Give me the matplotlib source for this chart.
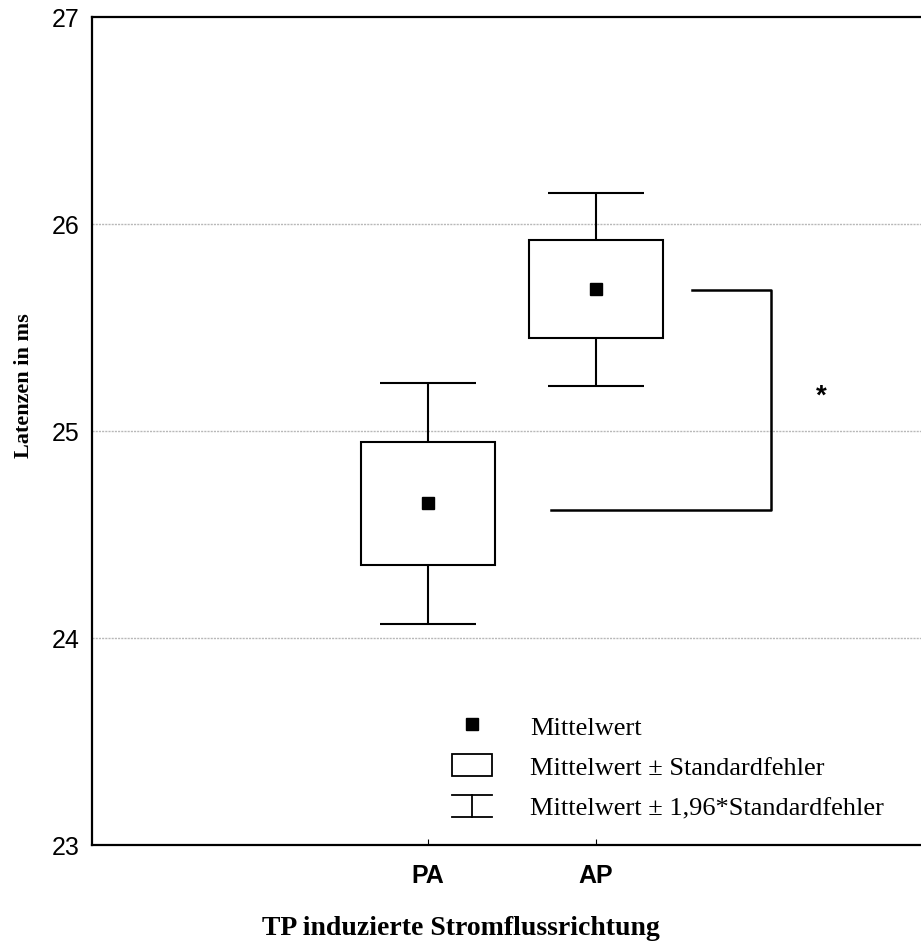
import numpy as np
import matplotlib
matplotlib.use("Agg")
import matplotlib.pyplot as plt
from matplotlib.lines import Line2D
from matplotlib.patches import Patch
from matplotlib.legend_handler import HandlerBase

# Latenzen je Stromflussrichtung
groups = ['PA', 'AP']
means = [24.65, 25.685]
std_err = [0.297, 0.238]

# Signifikanzklammer
bracket_y = [25.68, 24.62]
bracket_x_start = [1.57, 0.73]
bracket_x = 2.04
star_pos = (2.34, 25.17)

yticks = [23, 24, 25, 26, 27]

sans = 'Liberation Sans'
serif = 'Liberation Serif'


class WhiskerHandler(HandlerBase):
    def create_artists(self, legend, orig_handle, xdescent, ydescent,
                       width, height, fontsize, trans):
        xm = width / 2 - xdescent
        y0, y1 = -ydescent, height - ydescent
        lines = [
            Line2D([-xdescent, width - xdescent], [y1, y1]),
            Line2D([-xdescent, width - xdescent], [y0, y0]),
            Line2D([xm, xm], [y0, y1]),
        ]
        for ln in lines:
            ln.set_color('black')
            ln.set_linewidth(1.3)
            ln.set_transform(trans)
        return lines


fig = plt.figure(figsize=(9.21, 9.45), dpi=100)
ax = fig.add_axes([92 / 921, 99 / 945, 840 / 921, 828 / 945])

x = np.arange(len(groups))
means = np.array(means)
std_err = np.array(std_err)
lo_box, hi_box = means - std_err, means + std_err
lo_wh, hi_wh = means - 1.96 * std_err, means + 1.96 * std_err

ax.bar(x, hi_box - lo_box, bottom=lo_box, width=0.8, fill=False,
       edgecolor='black', linewidth=1.5, zorder=3)
ax.vlines(x, hi_box, hi_wh, color='black', lw=1.5, zorder=3)
ax.vlines(x, lo_wh, lo_box, color='black', lw=1.5, zorder=3)
ax.hlines(hi_wh, x - 0.285, x + 0.285, color='black', lw=1.5, zorder=3)
ax.hlines(lo_wh, x - 0.285, x + 0.285, color='black', lw=1.5, zorder=3)
ax.plot(x, means, 's', color='black', ms=9, zorder=4)

# Klammer mit Sternchen
ax.plot([bracket_x_start[0], bracket_x, bracket_x, bracket_x_start[1]],
        [bracket_y[0], bracket_y[0], bracket_y[1], bracket_y[1]],
        color='black', lw=1.8, zorder=3)
ax.text(star_pos[0], star_pos[1], '*', fontsize=20, fontweight='bold',
        family=sans, ha='center', va='center')

ax.set_xlim(-2, 3)
ax.set_ylim(23, 27)
ax.set_yticks(yticks)
ax.set_yticklabels([str(t) for t in yticks], family=sans, fontsize=18)
ax.set_xticks(x)
ax.set_xticklabels(groups, family=sans, fontsize=18, fontweight='bold')
ax.tick_params(axis='y', length=0, pad=9)
ax.tick_params(axis='x', direction='in', length=4, pad=13)

ax.grid(axis='y', color='#b8b8b8', linestyle=(0, (1.5, 0.8)), lw=1, zorder=0)
for t in [23, 27]:
    ax.get_ygridlines()[yticks.index(t)].set_visible(False)

for s in ['top', 'left', 'bottom']:
    ax.spines[s].set_linewidth(1.6)
ax.spines['right'].set_visible(False)

ax.set_ylabel('Latenzen in ms', family=serif, fontsize=16, fontweight='bold')
ax.yaxis.set_label_coords(-0.081, 0.556)
ax.yaxis.label.set_va('center')
ax.set_xlabel('TP induzierte Stromflussrichtung', family=serif,
              fontsize=20, fontweight='bold')
ax.xaxis.set_label_coords((461 - 92) / 840, (846 - 929) / 828)
ax.xaxis.label.set_va('center')

handles = [
    Line2D([], [], marker='s', ls='none', color='black', ms=8.5),
    Patch(facecolor='white', edgecolor='black', lw=1.3),
    object(),
]
labels = ['Mittelwert', 'Mittelwert \u00b1 Standardfehler',
          'Mittelwert \u00b1 1,96*Standardfehler']
leg = ax.legend(handles, labels, loc='upper left',
                bbox_to_anchor=((452 - 92) / 840, (846 - 715) / 828),
                frameon=False, borderpad=0, borderaxespad=0,
                handlelength=1.52, handleheight=0.9, handletextpad=1.45,
                labelspacing=0.58, prop={'family': serif, 'size': 19},
                handler_map={object: WhiskerHandler()})

fig.savefig('out.png', dpi=100)
